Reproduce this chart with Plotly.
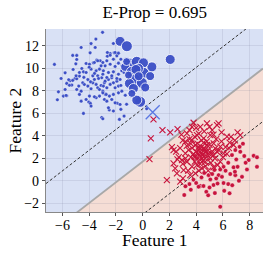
import plotly.graph_objects as go

# ---------------- data ----------------
title_text = "E-Prop = 0.695"
x_label = "Feature 1"
y_label = "Feature 2"
x_ticks = [-6, -4, -2, 0, 2, 4, 6, 8]
y_ticks = [-2, 0, 2, 4, 6, 8, 10, 12]
x_range = [-7.23, 9.0]
y_range = [-2.78, 13.5]

# decision boundary y = slope*x + intercept, margins at +/- margin
slope = 0.92
intercept = 1.7
margin = 4.7

blue_small_x = [-3.0, -6.6, -4.6, -3.86, -3.55, -3.93, -5.23, -4.93, -4.93, -4.23, -3.69, -3.43, -3.18, -2.64,
                -2.43, -2.13, -1.89, -4.55, -4.43, -4.73, -5.06, -5.43, -5.68, -5.3, -5.8, -6.3, -5.93, -5.68,
                -4.43, -3.06, -1.39, -2.5, -1.9, -1.2, -5.73, -5.48, -5.23, -4.93, -5.53, -4.78, -4.93, -4.6,
                -4.73, -4.6, -4.23, -4.03, -3.91, -3.86, -2.98, -4.48, -4.36, -4.1, -3.86, -3.73, -3.61, -3.48,
                -3.36, -3.23, -3.11, -2.86, -2.98, -3.23, -3.48, -3.61, -3.98, -2.79, -2.86, -3.06, -2.81, -2.56,
                -2.31, -2.19, -1.93, -1.69, -2.94, -2.68, -2.43, -2.06, -1.81, -1.63, -2.98, -2.73, -2.49, -2.19,
                -1.81, -1.56, -2.68, -2.31, -2.06, -1.69, -2.56, -2.19, -1.63, -1.74, -2.19, -2.64, -2.43, -2.06,
                -1.93, -1.81, -1.63, -2.19, -2.68, -2.98, -2.81, -2.43, -2.06, -1.81, -1.56, -2.94, -2.56, -2.19,
                -1.81, -1.56, -1.39, -2.68, -2.31, -1.93, -3.98, -3.61, -3.36, -3.11, -3.86, -3.48, -3.23, -4.23,
                -3.73, -3.36, -2.98, -4.98, -4.73, -4.1, -3.9, -4.4, -3.3, -3.6, -4.0, -5.0, -5.8, -6.1, -5.2,
                -6.38, -3.5, -1.3, -0.9, 0.3]
blue_small_y = [13.2, 10.35, 11.86, 12.2, 11.86, 11.38, 11.15, 11.15, 10.79, 10.43, 10.49, 10.73, 10.67, 11.08,
                11.32, 11.38, 11.32, 9.99, 9.69, 9.31, 9.1, 8.89, 8.66, 8.51, 8.12, 7.91, 7.53, 7.56,
                5.99, 5.63, 5.75, 6.3, 6.9, 6.8, 7.59, 8.49, 8.93, 9.07, 8.99, 8.42, 8.12, 7.97,
                7.68, 7.08, 7.23, 7.0, 6.88, 6.64, 5.51, 8.71, 8.56, 8.42, 8.18, 8.71, 9.01, 8.57,
                8.27, 8.12, 8.48, 8.71, 7.97, 7.53, 7.38, 7.47, 7.53, 7.68, 7.23, 9.16, 8.86, 9.01,
                9.16, 8.71, 8.86, 9.01, 8.42, 8.27, 8.57, 8.27, 8.42, 8.48, 7.82, 7.68, 7.53, 7.68,
                7.82, 7.97, 7.08, 7.23, 6.93, 6.79, 6.49, 6.2, 6.35, 5.46, 12.21, 11.41, 11.17, 11.41,
                11.11, 11.35, 10.81, 10.81, 10.67, 10.52, 10.22, 10.37, 10.17, 10.46, 10.22, 9.78, 9.63, 9.69,
                9.48, 9.78, 9.63, 9.19, 9.33, 9.1, 10.37, 10.52, 10.67, 10.22, 9.93, 9.78, 9.93, 9.63,
                9.33, 9.33, 9.48, 9.33, 9.63, 9.0, 8.8, 9.2, 9.1, 9.55, 10.1, 10.4, 9.6, 9.1, 9.9,
                7.2, 12.6, 7.6, 8.6, 6.4]

blue_big_x = [-1.69, -1.18, 2.06, 0.69, -0.99, -0.44, 0.06, -1.31, -0.81, 0.06, -0.56, -0.06, -0.99,
              -0.69, 0.56, -0.19, -0.44, -0.31, -0.5, -1.06, -0.81, 0.19, -1.2, -0.3]
blue_big_y = [12.4, 11.97, 10.79, 10.13, 10.43, 10.58, 10.49, 10.13, 9.69, 9.6, 9.01, 8.71, 8.66,
              8.21, 9.31, 7.02, 7.17, 10.0, 9.9, 9.4, 7.77, 8.3, 10.6, 9.3]
blue_big_size = [10, 11, 10, 10, 11, 11, 10, 9, 11, 11, 11, 11, 10,
                 10, 9, 11, 10, 10, 10, 8, 8, 9, 8, 9]

query_x = [0.75]
query_y = [6.1]

red_x_x = [0.81, 1.48, 2.06, 2.61, 0.61, 0.51, 1.81, 2.19, 2.31, 2.31, 2.43, 2.56, 2.81, 3.01, 3.06, 2.94,
           3.19, 3.44, 3.69, 3.81, 4.31, 4.81, 5.56, 5.68, 4.06, 4.56, 5.06, 5.31, 6.31, 7.3, 6.8, 5.81,
           3.69, 3.94, 4.31, 4.68, 4.93, 5.31, 5.56, 6.06, 3.94, 4.31, 4.68, 4.06, 3.69, 4.43, 3.31, 3.56,
           3.94, 4.18, 4.56, 5.06, 5.43, 4.81, 3.31, 3.19,
           4.2, 4.4, 4.0, 4.6, 4.9, 4.5, 4.8, 5.0, 5.2, 4.1, 3.8, 3.6, 3.9, 4.3, 4.7, 5.1, 5.4, 5.7, 5.9,
           6.2, 6.5, 6.0, 5.6, 4.9, 4.2, 3.4, 3.0, 2.7, 2.5, 3.3, 3.0, 2.9, 3.5, 4.0, 4.6, 5.2, 5.9, 6.6,
           6.9, 7.1, 3.9, 4.4, 4.8, 5.5, 3.7, 4.0, 4.5, 5.3, 5.8, 6.3, 3.2, 2.8, 3.5, 4.2, 5.0, 5.3, 4.7,
           4.3, 3.6, 4.35, 4.65, 4.15, 3.85, 5.15, 4.55, 6.45, 2.6]
red_x_y = [5.46, 4.5, 4.3, 4.6, 3.77, 1.93, 0.06, 3.0, 2.73, 1.54, 1.1, 0.65, -0.08, 0.21, 0.95, 1.84,
           2.43, 2.73, 4.8, 5.16, 4.8, 5.1, 4.95, 5.1, 4.06, 3.77, 4.06, 3.33, 3.92, 4.06, 3.18, 3.03,
           3.62, 3.18, 2.88, 2.58, 2.43, 2.28, 2.58, 2.43, 2.13, 1.84, 1.69, 1.39, 1.25, 1.1, 1.69, 0.5,
           0.65, 2.43, 2.13, 1.99, 2.88, 3.18, 4.21, 3.47,
           2.7, 3.0, 2.6, 2.9, 2.7, 2.3, 2.1, 3.2, 2.6, 3.3, 2.4, 2.1, 1.7, 1.5, 1.3, 1.6, 2.0, 2.7, 3.5,
           3.0, 3.4, 2.1, 1.4, 0.9, 0.9, 0.9, 1.5, 2.1, 2.6, 3.1, 3.6, 4.1, 4.5, 4.7, 4.4, 4.5, 4.3, 3.9,
           3.6, 4.3, 3.9, 3.6, 3.5, 3.7, 2.9, 2.0, 1.8, 1.2, 1.7, 2.4, 2.0, 2.9, 3.7, 4.2, 4.8, 4.1, 2.6,
           2.2, 3.3, 2.45, 2.75, 2.95, 2.2, 2.35, 3.4, 2.9, 1.9]

red_dot_x = [3.11, 5.8, 6.5, 4.76, 4.31, 4.55, 5.3, 5.6, 6.05, 6.4, 5.06, 4.93, 5.68, 5.93, 6.55, 6.93,
             7.43, 5.36, 6.05, 6.8, 7.1, 8.55, 7.93, 8.3, 8.55, 7.3, 7.25, 6.68, 6.93, 3.5, 3.8, 4.0,
             4.4, 4.6, 5.0, 5.5, 5.2, 5.8, 6.2, 6.4, 7.0, 7.6, 7.8, 6.7, 7.2, 7.5, 6.1, 4.9, 3.6,
             5.4, 6.9, 7.7, 4.18, 3.2]
red_dot_y = [-1.27, -2.31, -1.12, -0.98, -0.47, -0.47, -0.38, -0.25, -0.2, -0.3, 0.12, 0.5, 0.5, 0.35,
             0.6, 0.5, 0.35, 0.95, 1.24, 1.19, 1.24, 1.24, 1.84, 2.22, 2.08, 2.58, 3.02, 2.28, 2.73, -0.3,
             0.1, -0.2, 0.3, 0.7, -0.6, 0.2, 0.6, 1.0, 0.9, 1.6, 1.9, 2.2, 1.0, -0.4, 0.0, 3.3, -0.9,
             -1.3, -0.8, -1.1, 0.8, 1.6, -0.53, -0.5]

# ---------------- styling ----------------
BLUE = "#3b4fc6"
RED = "#c8143c"
BLUE_BG = "#d9e1f5"
RED_BG = "#f5ddd5"
FONT = "Liberation Serif"

fig = go.Figure()

# decision regions computed from boundary parameters and axis range
x0, x1 = x_range
y0, y1 = y_range
bx0 = slope * x0 + intercept
bx1 = slope * x1 + intercept
blue_path = f"M {x0},{bx0} L {x1},{bx1} L {x1},{y1} L {x0},{y1} Z"
red_path = f"M {x0},{bx0} L {x1},{bx1} L {x1},{y0} L {x0},{y0} Z"
fig.add_shape(type="path", path=blue_path, xref="x", yref="y", fillcolor=BLUE_BG,
              line=dict(width=0), layer="below")
fig.add_shape(type="path", path=red_path, xref="x", yref="y", fillcolor=RED_BG,
              line=dict(width=0), layer="below")

lx = [x0, x1]
fig.add_trace(go.Scatter(x=lx, y=[slope * v + intercept for v in lx], mode="lines",
                         line=dict(color="#a8a8a8", width=1.8), hoverinfo="skip"))
for sgn in (1, -1):
    fig.add_trace(go.Scatter(x=lx, y=[slope * v + intercept + sgn * margin for v in lx], mode="lines",
                             line=dict(color="#333333", width=1, dash="3px,2px"), hoverinfo="skip"))

fig.add_trace(go.Scatter(x=blue_small_x, y=blue_small_y, mode="markers",
                         marker=dict(size=3.6, color=BLUE, line=dict(width=0.5, color="rgba(255,255,255,0.7)"))))
fig.add_trace(go.Scatter(x=red_dot_x, y=red_dot_y, mode="markers",
                         marker=dict(size=4.5, color=RED, line=dict(width=0.6, color="rgba(255,255,255,0.7)"))))
fig.add_trace(go.Scatter(x=red_x_x, y=red_x_y, mode="markers",
                         marker=dict(symbol="x-thin", size=6, line=dict(width=1.1, color=RED))))
fig.add_trace(go.Scatter(x=blue_big_x, y=blue_big_y, mode="markers",
                         marker=dict(size=blue_big_size, color=BLUE, opacity=0.95,
                                     line=dict(width=1, color="rgba(255,255,255,0.85)"))))
fig.add_trace(go.Scatter(x=query_x, y=query_y, mode="markers",
                         marker=dict(symbol="x-thin", size=14, line=dict(width=1.3, color="#5b78e2"))))

axis_common = dict(showgrid=True, gridcolor="rgba(90,100,130,0.13)", gridwidth=1, zeroline=False,
                   showline=True, linecolor="#888888", linewidth=1.2, ticks="outside", ticklen=3,
                   tickcolor="#555555", automargin=False,
                   tickfont=dict(family=FONT, size=14, color="black"))

fig.update_layout(
    width=269, height=255,
    margin=dict(l=46, r=6, t=29, b=43, autoexpand=False),
    paper_bgcolor="white", plot_bgcolor="white",
    showlegend=False,
    title=dict(text=title_text, x=0.575, xanchor="center", y=0.953, yanchor="middle",
               font=dict(family=FONT, size=17, color="black")),
    xaxis=dict(range=x_range, tickvals=x_ticks, ticklabelstandoff=-3, **axis_common),
    yaxis=dict(range=y_range, tickvals=y_ticks, **axis_common),
    annotations=[
        dict(text=x_label, xref="paper", yref="paper", x=0.5, y=-0.155, xanchor="center",
             yanchor="middle", showarrow=False, font=dict(family=FONT, size=17.5, color="black")),
        dict(text=y_label, xref="paper", yref="paper", x=-0.143, y=0.5, xanchor="center",
             yanchor="middle", textangle=-90, showarrow=False,
             font=dict(family=FONT, size=17.5, color="black")),
    ],
)

fig.write_html("out.html", config={"displayModeBar": False},
               post_script="document.body.style.margin='0';document.body.style.overflow='hidden';")
